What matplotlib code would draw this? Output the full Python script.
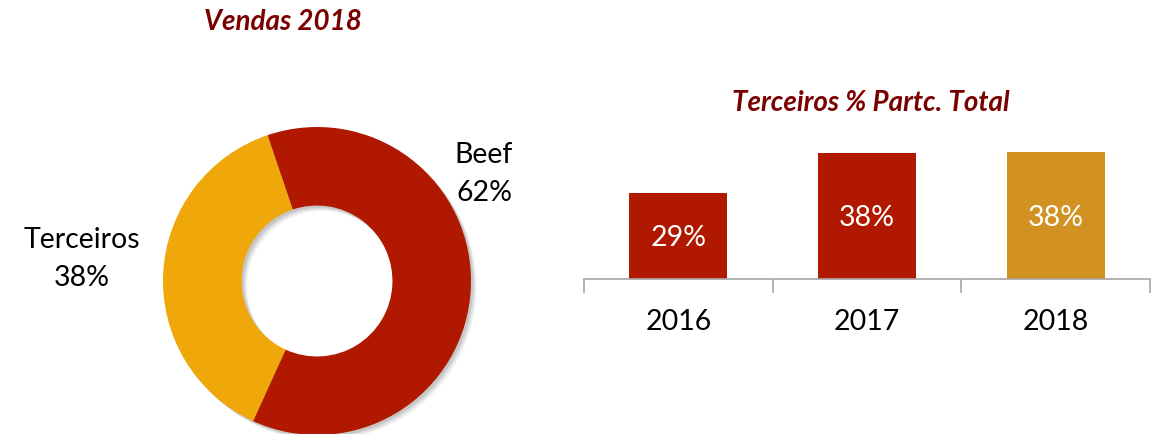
import matplotlib.pyplot as plt
from matplotlib.patches import Wedge

plt.rcParams['font.family'] = ['Lato', 'DejaVu Sans']

# donut data
donut_labels = ["Terceiros", "Beef"]
donut_values = [38, 62]
donut_colors = ["#F0A70A", "#B01800"]

# bar data
years = ["2016", "2017", "2018"]
share = [29, 38, 38.2]
share_labels = ["29%", "38%", "38%"]
bar_colors = ["#B01800", "#B01800", "#D19222"]

title_color = "#7A0000"
W, H = 1151, 434

fig = plt.figure(figsize=(W / 100, H / 100), dpi=100)


def px(xp, yp):
    return xp / W, 1 - yp / H


# ---- donut (center 317,281 px, radius 154 px) ----
cx, cy, r = 317, 281, 154
span = 1.6
side = r * span * 2
ax = fig.add_axes([(cx - side / 2) / W, (H - cy - side / 2) / H, side / W, side / H])
ax.set_aspect('equal')
ax.axis('off')

# soft shadow
for k, a in [(0.035, 0.06), (0.025, 0.08), (0.015, 0.10)]:
    ax.add_patch(Wedge((k, -k), 1.0, 0, 360, width=0.51, color="black", alpha=a, lw=0))

wedges, _ = ax.pie(donut_values, colors=donut_colors, startangle=108.7, counterclock=True,
                   radius=1.0, wedgeprops=dict(width=0.51, linewidth=0))
ax.set_xlim(-span, span)
ax.set_ylim(-span, span)

lab_fs = 20.5
fig.text(*px(82, 240), donut_labels[0], ha="center", va="center", fontsize=lab_fs)
fig.text(*px(82, 278), "%d%%" % donut_values[0], ha="center", va="center", fontsize=lab_fs)
fig.text(*px(484, 155), donut_labels[1], ha="center", va="center", fontsize=lab_fs)
fig.text(*px(484, 193), "%d%%" % donut_values[1], ha="center", va="center", fontsize=lab_fs)
fig.text(*px(283, 22), "Vendas 2018", ha="center", va="center",
         fontsize=20, fontweight="bold", fontstyle="italic", color=title_color)

# ---- bar chart ----
ymin, ymax = 9.65, 50
ppu = 40 / 9
ax_h = (ymax - ymin) * ppu
axb = fig.add_axes([584 / W, (H - 279) / H, 566 / W, ax_h / H])
x = range(len(years))
axb.bar(x, share, width=0.52, color=bar_colors)
axb.set_xlim(-0.5, len(years) - 0.5)
axb.set_ylim(ymin, ymax)
for s in ["top", "right", "left"]:
    axb.spines[s].set_visible(False)
axb.spines["bottom"].set_color("#A6A6A6")
axb.spines["bottom"].set_linewidth(1.2)
axb.set_yticks([])
axb.set_xticks([-0.5, 0.5, 1.5, 2.5])
axb.set_xticklabels([])
axb.tick_params(axis="x", length=10, color="#A6A6A6", width=1.2)
for i, yr in enumerate(years):
    axb.text(i, ymin - 43 / ppu, yr, ha="center", va="center", fontsize=lab_fs)
label_y = [238, 218, 218]
for i, lab in enumerate(share_labels):
    axb.text(i, ymin + (279 - label_y[i]) / ppu, lab, ha="center", va="center",
             fontsize=lab_fs, color="white")
fig.text(*px(871, 103), "Terceiros % Partc. Total", ha="center", va="center",
         fontsize=20, fontweight="bold", fontstyle="italic", color=title_color)

fig.savefig("out.png", dpi=100)
